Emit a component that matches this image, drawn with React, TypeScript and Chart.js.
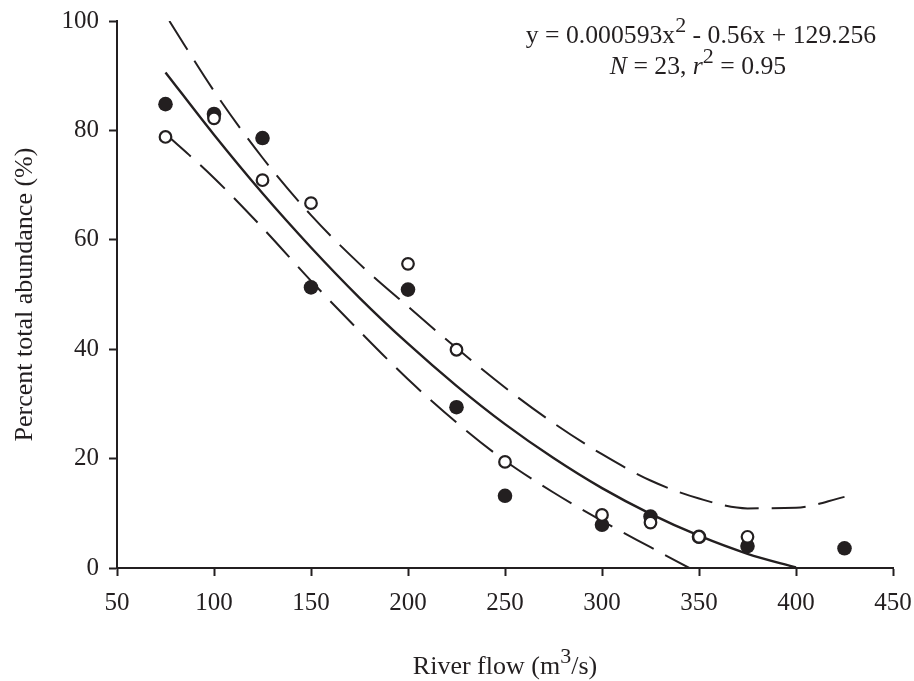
import React, { useEffect, useRef } from "react";
import { Chart, registerables } from "chart.js";

Chart.register(...registerables);

// Observations (river flow m3/s, percent total abundance)
const openFlow = [75, 100, 125, 150, 200, 225, 250, 300, 325, 350, 375];
const openPct = [78.8, 82.2, 70.9, 66.7, 55.6, 39.9, 19.4, 9.7, 8.3, 5.7, 5.7];
const filledFlow = [75, 100, 125, 150, 200, 225, 250, 300, 325, 350, 375, 425];
const filledPct = [84.8, 83.0, 78.6, 51.3, 50.9, 29.4, 13.2, 7.9, 9.4, 5.7, 4.0, 3.6];

// Fitted curve and confidence band
const fitFlow = [75, 100, 125, 150, 175, 200, 225, 250, 275, 300, 325, 350, 375, 400];
const fitPct = [90.6, 79.2, 68.5, 58.6, 49.4, 41.0, 33.3, 26.3, 20.1, 14.6, 9.9, 5.9, 2.6, 0.1];
const upperFlow = [77, 100, 125, 150, 175, 200, 225, 250, 275, 300, 325, 350, 375, 400, 425];
const upperPct = [100, 87.2, 75.0, 64.5, 55.6, 47.8, 40.2, 33.0, 26.5, 20.8, 16.0, 12.7, 10.9, 11.0, 13.0];
const lowerFlow = [75, 100, 125, 150, 175, 200, 225, 250, 275, 300, 325, 345];
const lowerPct = [79.4, 71.3, 62.2, 52.5, 43.3, 34.5, 26.6, 19.6, 13.8, 8.6, 3.8, 0];

const xTicks = [50, 100, 150, 200, 250, 300, 350, 400, 450];
const yTicks = [0, 20, 40, 60, 80, 100];

const FONT = "'Liberation Serif', 'Times New Roman', serif";
const INK = "#231f20";

const pts = (xs: number[], ys: number[]) => xs.map((x, i) => ({ x, y: ys[i] }));

type Seg = { t: string; sup?: boolean; it?: boolean };

function drawRich(ctx: CanvasRenderingContext2D, segs: Seg[], cx: number, baseY: number, size: number) {
  const fontFor = (s: Seg) => `${s.it ? "italic " : ""}${s.sup ? Math.round(size * 0.85) : size}px ${FONT}`;
  let total = 0;
  const widths = segs.map((s) => {
    ctx.font = fontFor(s);
    const w = ctx.measureText(s.t).width;
    total += w;
    return w;
  });
  let x = cx - total / 2;
  ctx.textAlign = "left";
  ctx.textBaseline = "alphabetic";
  segs.forEach((s, i) => {
    ctx.font = fontFor(s);
    ctx.fillText(s.t, x, s.sup ? baseY - size * 0.42 : baseY);
    x += widths[i];
  });
}

const textPlugin = {
  id: "annotText",
  afterDraw(chart: any) {
    const ctx = chart.ctx as CanvasRenderingContext2D;
    const area = chart.chartArea;
    ctx.save();
    ctx.fillStyle = INK;
    // equation
    drawRich(
      ctx,
      [{ t: "y = 0.000593x" }, { t: "2", sup: true }, { t: " - 0.56x + 129.256" }],
      701,
      43,
      25.7
    );
    drawRich(
      ctx,
      [{ t: "N", it: true }, { t: " = 23, " }, { t: "r", it: true }, { t: "2", sup: true }, { t: " = 0.95" }],
      698,
      74,
      25.7
    );
    // x title
    drawRich(
      ctx,
      [{ t: "River flow (m" }, { t: "3", sup: true }, { t: "/s)" }],
      (area.left + area.right) / 2,
      674,
      26
    );
    // y title
    ctx.translate(25, (area.top + area.bottom) / 2);
    ctx.rotate(-Math.PI / 2);
    ctx.font = `26px ${FONT}`;
    ctx.textAlign = "center";
    ctx.textBaseline = "middle";
    ctx.fillText("Percent total abundance (%)", 0, 0);
    ctx.restore();
  },
};

export default function App() {
  const ref = useRef<HTMLCanvasElement | null>(null);
  useEffect(() => {
    if (!ref.current) return;
    const chart = new Chart(ref.current, {
      type: "scatter",
      data: {
        datasets: [
          {
            label: "open",
            data: pts(openFlow, openPct),
            pointRadius: 5.8,
            pointBorderWidth: 2.2,
            pointBackgroundColor: "#ffffff",
            pointBorderColor: INK,
            showLine: false,
          },
          {
            label: "filled",
            data: pts(filledFlow, filledPct),
            pointRadius: 7.3,
            pointBorderWidth: 0,
            pointBackgroundColor: INK,
            pointBorderColor: INK,
            showLine: false,
          },
          {
            label: "fit",
            data: pts(fitFlow, fitPct),
            showLine: true,
            pointRadius: 0,
            borderColor: INK,
            borderWidth: 2.4,
            cubicInterpolationMode: "monotone",
          },
          {
            label: "upper",
            data: pts(upperFlow, upperPct),
            showLine: true,
            pointRadius: 0,
            borderColor: INK,
            borderWidth: 2,
            borderDash: [34, 13],
            cubicInterpolationMode: "monotone",
          },
          {
            label: "lower",
            data: pts(lowerFlow, lowerPct),
            showLine: true,
            pointRadius: 0,
            borderColor: INK,
            borderWidth: 2,
            borderDash: [34, 13],
            cubicInterpolationMode: "monotone",
          },
        ],
      },
      options: {
        animation: false,
        responsive: false,
        events: [],
        layout: { padding: { left: 0, right: 21, top: 21, bottom: 0 } },
        plugins: { legend: { display: false }, tooltip: { enabled: false } },
        scales: {
          x: {
            type: "linear",
            min: 50,
            max: 450,
            afterBuildTicks: (s: any) => {
              s.ticks = xTicks.map((v) => ({ value: v }));
            },
            afterFit: (s: any) => {
              s.height = 113;
              s.paddingLeft = 0;
              s.paddingRight = 0;
            },
            ticks: { color: INK, font: { family: FONT, size: 25 }, padding: 12 },
            grid: { drawOnChartArea: false, drawTicks: true, tickLength: 8, tickWidth: 2, tickColor: INK },
            border: { color: INK, width: 2 },
          },
          y: {
            type: "linear",
            min: 0,
            max: 100,
            afterBuildTicks: (s: any) => {
              s.ticks = yTicks.map((v) => ({ value: v }));
            },
            afterFit: (s: any) => {
              s.width = 117;
              s.paddingTop = 0;
              s.paddingBottom = 0;
            },
            ticks: { color: INK, font: { family: FONT, size: 25 }, padding: 10 },
            grid: { drawOnChartArea: false, drawTicks: true, tickLength: 8, tickWidth: 2, tickColor: INK },
            border: { color: INK, width: 2 },
          },
        },
      },
      plugins: [textPlugin],
    });
    return () => chart.destroy();
  }, []);
  return (
    <div style={{ position: "absolute", left: 0, top: 0, width: 914, height: 681, background: "#fff" }}>
      <canvas ref={ref} width={914} height={681} style={{ width: 914, height: 681 }} />
    </div>
  );
}
